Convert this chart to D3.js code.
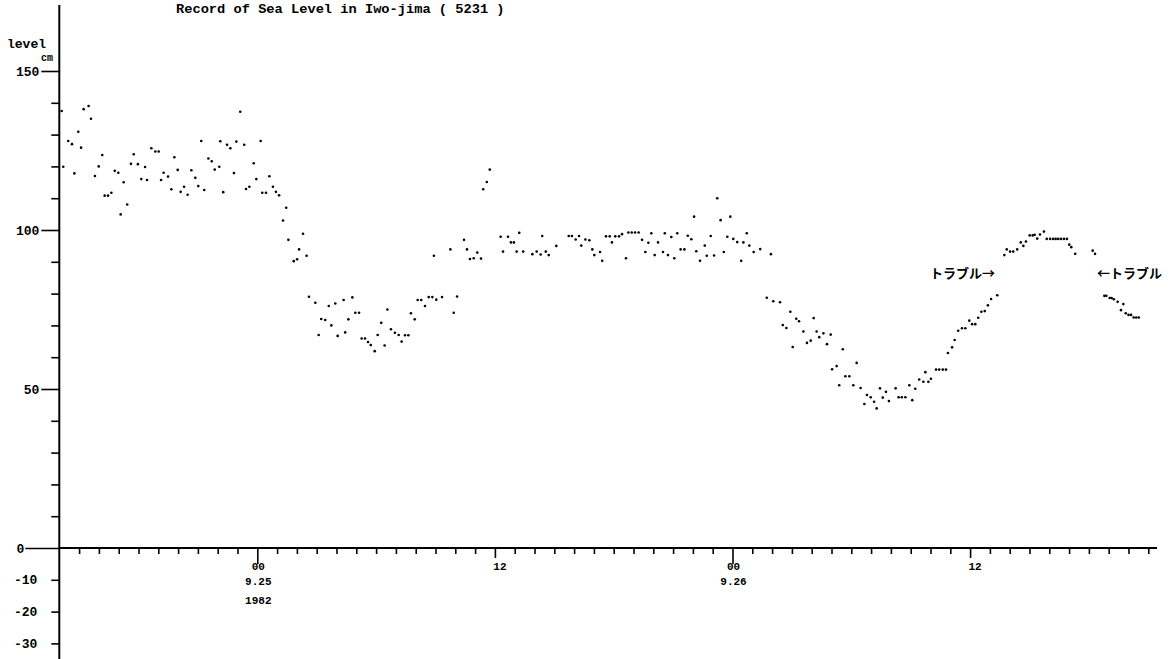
<!DOCTYPE html>
<html>
<head>
<meta charset="utf-8">
<script src="https://cdn.jsdelivr.net/npm/d3@7"></script>
<style>
  body { margin: 0; background: #fff; }
  svg { display: block; }
  text { fill: #000; }
</style>
</head>
<body>
<div id="chart"></div>
<script>
var width = 1175;
var height = 659;

// hours from 1982-09-25 00:00
var hours = [
  -9.88,-9.80,-9.55,-9.36,-9.24,-9.04,-8.90,-8.77,-8.52,-8.40,-8.20,-8.01,-7.83,-7.71,-7.54,-7.37,-7.20,-7.02,-6.90,-6.75,
  -6.57,-6.38,-6.24,-6.03,-5.86,-5.67,-5.57,-5.35,-5.15,-4.98,-4.86,-4.73,-4.51,-4.34,-4.19,-4.02,-3.87,-3.70,-3.52,-3.33,
  -3.13,-2.98,-2.83,-2.68,-2.47,-2.30,-2.15,-1.92,-1.87,-1.72,-1.53,-1.36,-1.18,-1.06,-0.86,-0.66,-0.57,-0.40,-0.18,-0.05,
  0.17,0.25,0.44,0.61,0.79,0.94,1.10,1.30,1.46,1.57,1.84,2.01,2.11,2.31,2.49,2.61,2.93,3.10,3.23,3.43,
  3.61,3.74,3.94,4.06,4.36,4.44,4.60,4.80,4.95,5.14,5.27,5.44,5.59,5.73,5.93,6.08,6.26,6.43,6.57,6.75,
  6.95,7.14,7.29,7.46,7.63,7.76,7.95,8.10,8.28,8.47,8.66,8.84,8.92,9.04,9.33,9.75,9.92,10.09,10.44,10.59,
  10.74,10.93,11.11,11.30,11.41,11.59,11.74,12.29,12.41,12.66,12.81,12.96,13.10,13.23,13.43,13.89,14.11,14.31,14.39,14.57,
  14.72,15.10,15.73,15.89,16.08,16.25,16.36,16.57,16.77,16.92,17.02,17.31,17.42,17.61,17.80,17.91,18.08,18.27,18.42,18.62,
  18.74,18.91,19.08,19.26,19.43,19.60,19.75,19.90,20.07,20.24,20.49,20.58,20.74,20.91,21.06,21.21,21.38,21.57,21.74,21.92,
  22.06,22.17,22.36,22.60,22.70,22.90,23.07,23.23,23.40,23.56,23.74,23.89,24.04,24.24,24.44,24.55,24.72,24.85,25.07,25.40,
  25.73,25.94,26.06,26.40,26.54,26.72,26.92,27.04,27.22,27.36,27.58,27.76,27.95,28.10,28.25,28.38,28.59,28.77,28.96,29.03,
  29.26,29.39,29.57,29.70,29.90,30.10,30.27,30.47,30.66,30.79,30.98,31.15,31.28,31.45,31.59,31.75,31.90,32.24,32.39,32.55,
  32.73,32.93,33.08,33.23,33.43,33.64,33.74,33.89,34.02,34.28,34.44,34.62,34.78,34.88,35.09,35.22,35.40,35.59,35.76,35.96,
  36.10,36.26,36.41,36.57,36.74,36.90,37.06,37.37,37.73,37.85,38.02,38.18,38.38,38.56,38.69,38.82,39.01,39.16,39.26,39.39,
  39.53,39.73,39.87,40.04,40.19,40.32,40.45,40.59,40.74,40.89,41.01,41.11,41.31,42.19,42.31,42.78,42.88,43.05,43.15,43.26,
  43.45,43.62,43.74,43.86,44.00,44.13,44.26,44.39,44.52
];
// sea level, cm
var levels = [
  137.4,119.9,128,127,117.8,130.9,125.9,138,139,135,117,120,123.6,110.8,110.8,111.7,118.6,118,104.9,115,
  108,120.8,123.8,120.7,116,119.8,115.7,125.7,124.7,124.7,115.7,118,116.8,112.8,122.9,118.9,112,113.6,111.1,118.8,
  116.4,113.8,128,112.6,122.5,121.6,119,119.9,127.9,111.9,126.8,125.7,117.9,127.8,137.2,126.8,112.9,113.6,121,116,
  128,111.7,111.7,116.9,113.6,112,110.9,103,107,96.9,90.2,90.8,93.9,98.8,91.9,79,77.1,67,72,71.7,
  76.1,70,76.9,66.7,78,67.8,71.9,78.8,74,74,65.9,65.9,64.8,63.8,61.9,67,70.8,63.7,75,68.8,
  67.7,67,64.9,66.9,66.9,73.8,71.9,78,78,76.1,78.9,78.9,91.9,78.1,78.9,93.9,74,79.1,96.9,93.9,
  90.9,91.1,92.9,91,112.8,115.1,119,97.9,93.2,97.9,96.1,96.1,93.2,99.1,93.2,92.4,93.2,92.3,98.1,93.2,
  92.1,95,98.1,98.1,97,98.1,95.1,97,96.8,93.9,92.1,93.1,90.3,98,98,96.1,98,98,98.7,91.1,
  99.2,99.2,99.2,99.2,96.9,93.1,96,99,92.1,96.1,93.1,99,92.1,97.8,91.1,99,93.9,93.9,98.2,97.1,
  104.2,93.3,90.3,95.1,91.9,98.1,92,110,103.1,93.1,97.9,104.2,97.2,96.2,90.3,96.1,99,95.1,93.1,94,
  78.7,92.4,77.6,77.3,70.1,69.2,74.3,63.2,72.1,71.3,68.1,64.5,65.2,72.3,68.1,66.3,67.5,64.1,67.1,56.2,
  57.2,51.2,62.5,54,54,51.2,58.2,50.3,45.3,48.1,47.4,46,43.9,50.2,47.3,49.1,46.2,50.2,47.4,47.4,
  47.4,51.2,46.5,50.1,53,52.3,55.3,52.3,53.2,56.1,56.1,56.1,56.1,61.3,63.1,65.4,68.3,69.1,69.1,71.5,
  70.4,70.4,72.4,74.3,74.5,76.3,78.3,79.5,92.1,93.9,93.2,93.2,93.9,96.1,95,96.4,98.3,98.3,98.5,97.3,
  98.6,99.5,97.2,97.2,97.2,97.2,97.2,97.2,97.2,97.2,95.4,94.6,92.5,93.5,92.5,79.3,79.3,78.6,78.6,78.2,
  77.4,74.8,76.7,73.8,73.3,73.3,72.5,72.5,72.5
];

var yTicks = [-30,-20,-10,0,10,20,30,40,50,60,70,80,90,100,110,120,130,140,150];
var yLabels = [150,100,50,0,-10,-20,-30];
var hourTicks = d3.range(-9, 46);
var dayTicks = [
  {h: 0, hh: "00", day: "9.25", year: "1982"},
  {h: 12, hh: "12"},
  {h: 24, hh: "00", day: "9.26"},
  {h: 36, hh: "12"}
];
var notes = [
  {h: 33.97, v: 84.9, text: "トラブル→"},
  {h: 42.41, v: 84.9, text: "←トラブル"}
];
var title = "Record of Sea Level in Iwo-jima ( 5231 )";

var x = d3.scaleLinear().domain([-10, 45]).range([59.3, 1148.3]);
var y = d3.scaleLinear().domain([0, 150]).range([548, 71]);

var svg = d3.select("#chart").append("svg")
    .attr("width", width)
    .attr("height", height);

svg.append("rect").attr("width", width).attr("height", height).attr("fill", "#fff");

var mono = "'Liberation Mono', 'DejaVu Sans Mono', monospace";

// title
svg.append("text")
    .attr("x", 176).attr("y", 13)
    .attr("font-family", mono).attr("font-size", 13.7).attr("font-weight", "bold")
    .attr("fill", "#000")
    .text(title);

// y axis
var yAxis = svg.append("g")
    .attr("transform", "translate(" + x(-10) + ",0)")
    .call(d3.axisLeft(y).tickValues(yTicks).tickSize(8).tickPadding(14)
        .tickFormat(function (d) { return yLabels.indexOf(d) >= 0 ? d : ""; }));
yAxis.select(".domain").remove();
yAxis.selectAll("line").attr("stroke", "#000").attr("stroke-width", 1.6)
    .attr("x2", function (d) { return d === 0 ? -34 : (d % 50 === 0 && d > 0 ? -18 : -8); });
yAxis.selectAll("text")
    .attr("font-family", mono).attr("font-size", 13).attr("font-weight", "bold").attr("fill", "#000")
    .attr("x", function (d) { return d === 0 ? -35 : (d > 0 ? -20 : -22); });
svg.append("line")
    .attr("x1", x(-10)).attr("x2", x(-10)).attr("y1", 5).attr("y2", height)
    .attr("stroke", "#000").attr("stroke-width", 2);

svg.append("text").attr("x", 7).attr("y", 48).attr("fill", "#000")
    .attr("font-family", mono).attr("font-size", 13).attr("font-weight", "bold").text("level");
svg.append("text").attr("x", 41).attr("y", 61).attr("fill", "#000")
    .attr("font-family", mono).attr("font-size", 10).attr("font-weight", "bold").text("cm");

// x axis
var xAxis = svg.append("g")
    .attr("transform", "translate(0," + y(0) + ")")
    .call(d3.axisBottom(x).tickValues(hourTicks).tickSize(6).tickFormat(""));
xAxis.select(".domain").remove();
xAxis.selectAll("line").attr("stroke", "#000").attr("stroke-width", 1.6)
    .attr("y2", function (d) { return d % 24 === 0 ? 16 : (d % 12 === 0 ? 10 : 6); });
svg.append("line")
    .attr("x1", x(-10)).attr("x2", 1157).attr("y1", y(0)).attr("y2", y(0))
    .attr("stroke", "#000").attr("stroke-width", 2);

var xl = svg.append("g").attr("font-family", mono).attr("font-size", 11).attr("font-weight", "bold")
    .attr("text-anchor", "middle").attr("fill", "#000");
dayTicks.forEach(function (d) {
    var cx = x(d.h) + (d.hh === "12" ? 5 : 1);
    xl.append("text").attr("x", cx).attr("y", 570).text(d.hh);
    if (d.day) xl.append("text").attr("x", cx).attr("y", 585).text(d.day);
    if (d.year) xl.append("text").attr("x", cx).attr("y", 604).text(d.year);
});

// points
svg.append("g").selectAll("circle")
    .data(hours.map(function (h, i) { return [h, levels[i]]; }))
    .enter().append("circle")
    .attr("cx", function (d) { return x(d[0]); })
    .attr("cy", function (d) { return y(d[1]); })
    .attr("r", 1.3)
    .attr("fill", "#000");

// notes
svg.append("g").selectAll("text")
    .data(notes)
    .enter().append("text")
    .attr("x", function (d) { return x(d.h); })
    .attr("y", function (d) { return y(d.v); })
    .attr("font-family", "'Noto Sans CJK JP', sans-serif")
    .attr("font-size", 13).attr("font-weight", "bold").attr("fill", "#000")
    .text(function (d) { return d.text; });
</script>
</body>
</html>
